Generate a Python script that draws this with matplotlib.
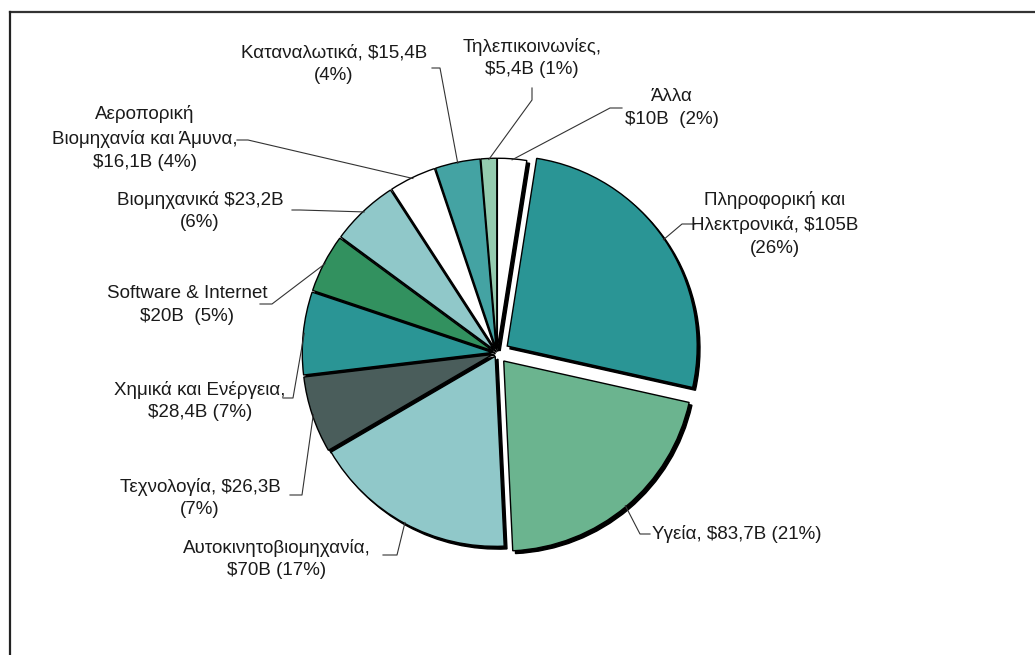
import numpy as np
import matplotlib
matplotlib.use("Agg")
import matplotlib.pyplot as plt
from matplotlib.lines import Line2D

plt.rcParams['font.family'] = ['Liberation Sans', 'DejaVu Sans']

# Τομείς, κατά τη φορά του ρολογιού από τις 12
tomeis = ["Άλλα", "Πληροφορική και Ηλεκτρονικά", "Υγεία", "Αυτοκινητοβιομηχανία",
          "Τεχνολογία", "Χημικά και Ενέργεια", "Software & Internet", "Βιομηχανικά",
          "Αεροπορική Βιομηχανία και Άμυνα", "Καταναλωτικά", "Τηλεπικοινωνίες"]
axies = [10, 105, 83.7, 70, 26.3, 28.4, 20, 23.2, 16.1, 15.4, 5.4]
etiketes = ["Άλλα\n$10B  (2%)",
            "Πληροφορική και\nΗλεκτρονικά, $105B\n(26%)",
            "Υγεία, $83,7B (21%)",
            "Αυτοκινητοβιομηχανία,\n$70B (17%)",
            "Τεχνολογία, $26,3B\n(7%)",
            "Χημικά και Ενέργεια,\n$28,4B (7%)",
            "Software & Internet\n$20B  (5%)",
            "Βιομηχανικά $23,2B\n(6%)",
            "Αεροπορική\nΒιομηχανία και Άμυνα,\n$16,1B (4%)",
            "Καταναλωτικά, $15,4B\n(4%)",
            "Τηλεπικοινωνίες,\n$5,4B (1%)"]
xromata = ["#FFFFFF", "#2A9595", "#6BB48F", "#90C8C9", "#4A5D5B", "#2A9595",
           "#32915F", "#90C8C9", "#FFFFFF", "#44A3A3", "#94CBAF"]
explode = [0.025, 0.065, 0.055, 0.02, 0.025, 0.025, 0.025, 0.025, 0.025, 0.025, 0.025]

W, H = 1035, 655

def P(x, y):
    # pixel (y προς τα κάτω) -> δεδομένα
    return x, H - y

# θέσεις κειμένων (pixel) και αρχή γραμμής οδηγού
text_pos = [(672, 108), (775, 224), (652, 534), (277, 559), (200, 498),
            (200, 401), (187, 305), (200, 211), (145, 138), (334, 64), (532, 58)]
text_ha = ["center", "center", "left", "center", "center", "center", "center",
           "center", "center", "center", "center"]
lead_start = [[(622, 108), (610, 108)],
              [(695, 224), (682, 224)],
              [(650, 534), (640, 534)],
              [(383, 555), (397, 555)],
              [(290, 495), (302, 495)],
              [(283, 398), (293, 398)],
              [(260, 304), (272, 304)],
              [(292, 210), (300, 210)],
              [(237, 140), (248, 140)],
              [(432, 68), (440, 68)],
              [(532, 88), (532, 100)]]

cx, cy = P(497, 353)
R = 190

fig = plt.figure(figsize=(W / 100, H / 100), dpi=100)
ax = fig.add_axes([0, 0, 1, 1])

wedges, _ = ax.pie(axies, colors=xromata, explode=[e * R for e in explode],
                   startangle=90, counterclock=False, center=(cx, cy), radius=R,
                   wedgeprops=dict(edgecolor="black", linewidth=1.0),
                   shadow=dict(ox=2.0, oy=-2.0, facecolor="black",
                               edgecolor="black", alpha=1.0))
ax.set_xlim(0, W)
ax.set_ylim(0, H)
ax.set_aspect("auto")
ax.axis("off")

for i, w in enumerate(wedges):
    mid = np.deg2rad((w.theta1 + w.theta2) / 2)
    wx, wy = w.center
    px = wx + (R - 1) * np.cos(mid)
    py = wy + (R - 1) * np.sin(mid)
    (x0, y0), (x1, y1) = lead_start[i]
    xs = [P(x0, y0)[0], P(x1, y1)[0], px]
    ys = [P(x0, y0)[1], P(x1, y1)[1], py]
    ax.plot(xs, ys, color="#333333", lw=0.8, zorder=3)
    tx, ty = P(*text_pos[i])
    ax.text(tx, ty, etiketes[i], ha=text_ha[i], va="center", multialignment="center",
            fontsize=13.5, linespacing=1.45, color="#1a1a1a")

# πλαίσιο (μόνο πάνω και αριστερά φαίνονται)
fig.add_artist(Line2D([10 / W, 1], [1 - 12 / H, 1 - 12 / H], color="#333333", lw=1.6))
fig.add_artist(Line2D([10 / W, 10 / W], [0, 1 - 12 / H], color="#222222", lw=1.6))

fig.savefig("out.png", dpi=100)
